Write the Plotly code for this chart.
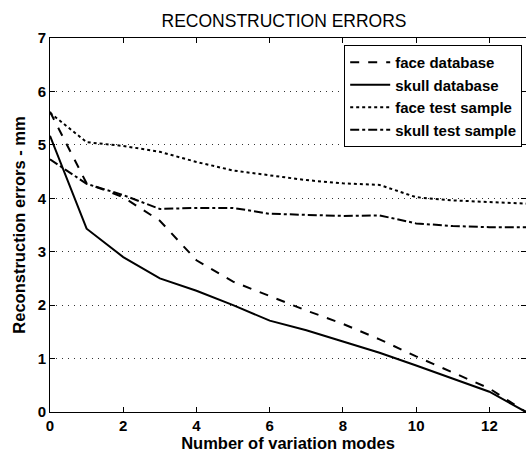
import plotly.graph_objects as go

modes = list(range(14))
face_db = [5.62, 4.28, 4.02, 3.58, 2.84, 2.44, 2.17, 1.9, 1.65, 1.36, 1.04, 0.74, 0.44, 0.0]
skull_db = [5.17, 3.43, 2.9, 2.5, 2.27, 2.0, 1.71, 1.53, 1.32, 1.11, 0.87, 0.63, 0.38, 0.0]
face_test = [5.6, 5.05, 4.98, 4.87, 4.68, 4.52, 4.43, 4.34, 4.28, 4.25, 4.02, 3.96, 3.93, 3.9]
skull_test = [4.73, 4.27, 4.06, 3.8, 3.82, 3.82, 3.71, 3.69, 3.67, 3.68, 3.53, 3.48, 3.46, 3.46]

series = [
    ("face database", face_db, "dash"),
    ("skull database", skull_db, "solid"),
    ("face test sample", face_test, "dot"),
    ("skull test sample", skull_test, "dashdot"),
]

fig = go.Figure()
for name, vals, dash in series:
    fig.add_trace(go.Scatter(x=modes, y=vals, mode="lines", name=name,
                             line=dict(color="black", width=2, dash=dash)))

font = "Arial, Liberation Sans, sans-serif"
fig.update_layout(
    width=526, height=453,
    margin=dict(l=50, r=0, t=38, b=41),
    paper_bgcolor="white", plot_bgcolor="white",
    title=dict(text="RECONSTRUCTION ERRORS", xref="container", x=0.54, xanchor="center",
               yref="container", y=0.955, yanchor="middle",
               font=dict(family=font, size=17.5, color="black")),
    font=dict(family=font, color="black"),
    showlegend=True,
    legend=dict(x=0.992, y=0.981, xanchor="right", yanchor="top",
                bordercolor="black", borderwidth=1, bgcolor="white",
                font=dict(family=font, size=15, color="black", weight="bold"),
                tracegroupgap=0, itemwidth=40),
    xaxis=dict(range=[0, 13], tickvals=[0, 2, 4, 6, 8, 10, 12], ticks="inside", ticklen=5,
               tickcolor="black", showline=True, linecolor="black", linewidth=1, mirror="ticks",
               showgrid=False, zeroline=False,
               tickfont=dict(family=font, size=15, color="black", weight="bold"),
               title=dict(text="Number of variation modes", standoff=4,
                          font=dict(family=font, size=16.5, color="black", weight="bold"))),
    yaxis=dict(range=[0, 7], tickvals=list(range(8)), ticks="inside", ticklen=5,
               tickcolor="black", showline=True, linecolor="black", linewidth=1, mirror="ticks",
               showgrid=True, gridcolor="#333333", griddash="1px,5px", gridwidth=1, zeroline=False,
               tickfont=dict(family=font, size=15, color="black", weight="bold"),
               title=dict(text="Reconstruction errors - mm", standoff=7,
                          font=dict(family=font, size=16.5, color="black", weight="bold"))),
)

fig.write_html("out.html")
